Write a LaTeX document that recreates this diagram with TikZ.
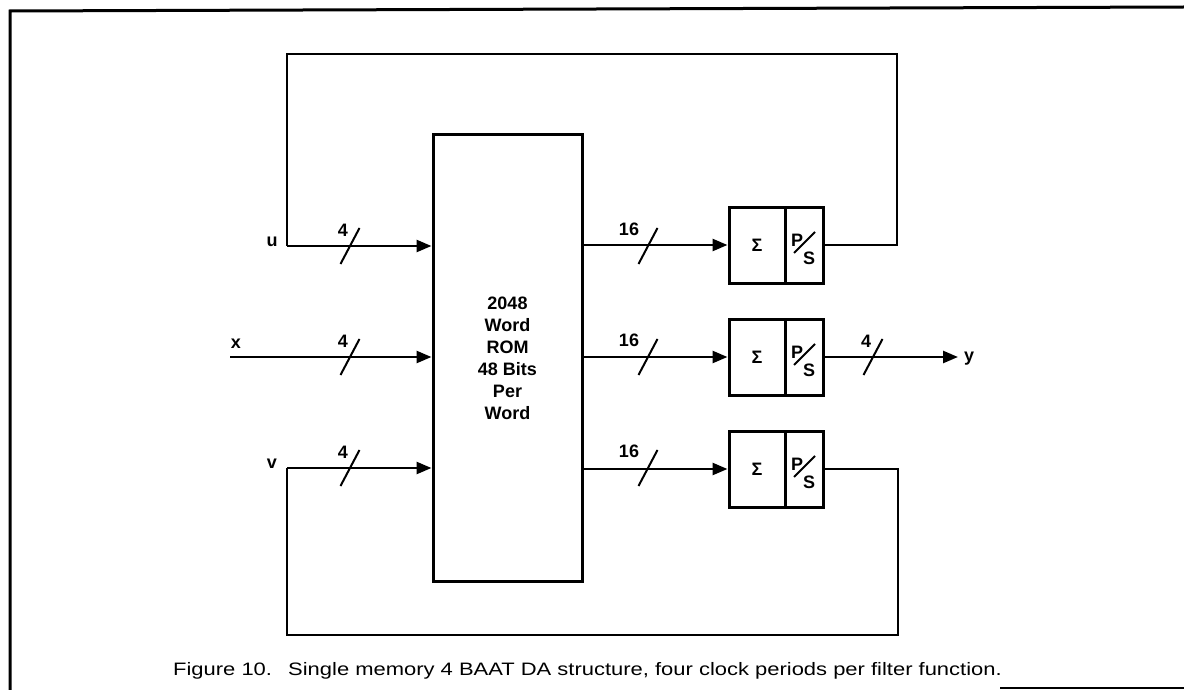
\documentclass[tikz,border=0pt]{standalone}
\usepackage{fontspec}
\setmainfont{Liberation Sans}
\usepackage{graphicx}
\usetikzlibrary{arrows.meta,positioning,calc}

\begin{document}
\begin{tikzpicture}[x=1pt,y=-1pt]
  % Styles
  \tikzset{
    rombox/.style={rectangle, draw=black, line width=3pt, minimum width=149pt,
      minimum height=446pt, align=center, font=\bfseries\fontsize{18}{22}\selectfont},
    sumbox/.style={rectangle, draw=black, line width=3pt, minimum width=56pt,
      minimum height=76pt, inner sep=0pt, font=\bfseries\fontsize{18}{20}\selectfont},
    psbox/.style={rectangle, draw=black, line width=3pt, minimum width=38pt,
      minimum height=76pt, inner sep=0pt},
    wire/.style={line width=2.5pt, black},
    arrow/.style={wire, -{Triangle[length=15pt,width=12pt]}},
    buslbl/.style={font=\bfseries\fontsize{18}{20}\selectfont, inner sep=0pt},
    sig/.style={font=\bfseries\fontsize{18}{20}\selectfont, inner sep=0pt},
    caption/.style={anchor=base west, inner sep=0pt, font=\fontsize{18}{20}\selectfont},
    frame/.style={line width=3pt, black}
  }
  \useasboundingbox (0,0) rectangle (1184,690);

  % Page frame
  \draw[frame] (10,690) -- (10,11) -- (1184,7);
  \draw[line width=2pt] (1000,688) -- (1184,688);

  % ROM
  \node[rombox] (rom) at (507.5,358) {2048\\Word\\ROM\\48 Bits\\Per\\Word};

  % Accumulators with P/S
  \node[sumbox] (sumU) at (757,245) {Σ};
  \node[psbox] (psU) at (804,245) {};
  \node[sumbox] (sumX) at (757,357) {Σ};
  \node[psbox] (psX) at (804,357) {};
  \node[sumbox] (sumV) at (757,469) {Σ};
  \node[psbox] (psV) at (804,469) {};
  \foreach \b in {psU,psX,psV}{
    \node[buslbl] (\b P) at ($(\b.center)+(-7,-5)$) {P};
    \node[buslbl] (\b S) at ($(\b.center)+(5,13)$) {S};
    \draw[line width=2pt] ($(\b.center)+(-10,8)$) -- ++(21,-21);
  }

  % Inputs
  \coordinate (uin) at (287,246);
  \coordinate (xin) at (230,357);
  \coordinate (vin) at (287,468);
  \node[sig] (ulbl) at (272,242) {u};
  \node[sig] (xlbl) at (236,344) {x};
  \node[sig] (vlbl) at (272,464) {v};
  \draw[arrow] (uin) -- (rom.west |- uin);
  \draw[arrow] (xin) -- (rom.west |- xin);
  \draw[arrow] (vin) -- (rom.west |- vin);

  % ROM outputs
  \draw[arrow] (rom.east |- sumU) -- (sumU.west);
  \draw[arrow] (rom.east |- sumX) -- (sumX.west);
  \draw[arrow] (rom.east |- sumV) -- (sumV.west);

  % Output y
  \coordinate (yout) at (958,357);
  \draw[arrow] (psX.east) -- (yout);
  \node[sig, anchor=west] (ylbl) at ($(yout)+(6,2)$) {y};

  % Feedback loops
  \coordinate (topR) at (897,54);
  \coordinate (botR) at (898,635);
  \draw[wire] (psU.east) -| (topR) -| (uin);
  \draw[wire] (psV.east) -| (botR) -| (vin);

  % Bus widths
  \foreach \y/\n in {246/a,357/b,468/c}{
    \draw[line width=2pt] (340.5,\y+18) -- (359.5,\y-18);
    \node[buslbl] (in\n) at (343,\y-16) {4};
    \draw[line width=2pt] (638.5,\y+18) -- (657.5,\y-18);
    \node[buslbl] (out\n) at (629,\y-17) {16};
  }
  \draw[line width=2pt] (863.5,375) -- (882.5,339);
  \node[buslbl] (ybus) at (866,341) {4};

  % Caption
  \node[caption] (fig) at (173,675) {\scalebox{1.22}[1]{Figure 10.}};
  \node[caption] (cap) at (288,675)
    {\scalebox{1.22}[1]{Single memory 4 BAAT DA structure, four clock periods per filter function.}};
\end{tikzpicture}
\end{document}
